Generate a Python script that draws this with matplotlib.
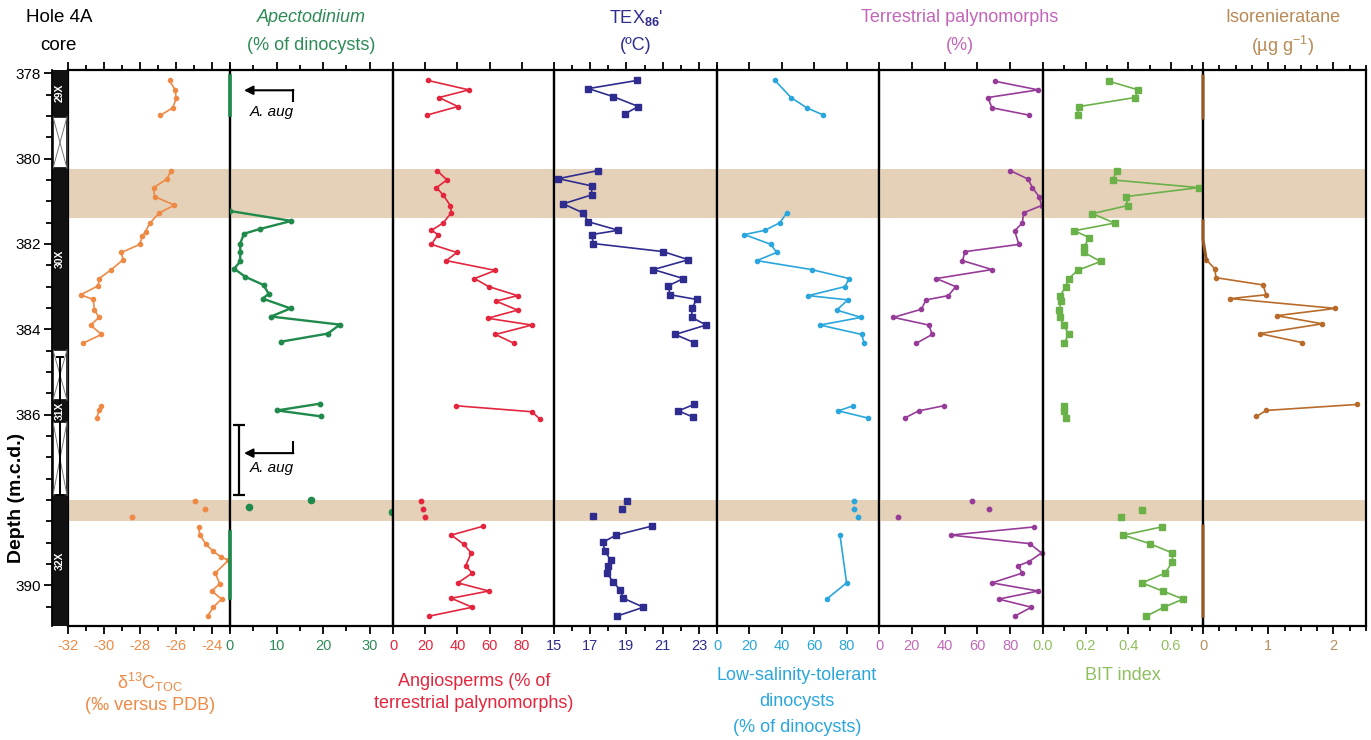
import numpy as np
import matplotlib
matplotlib.use("Agg")
import matplotlib.pyplot as plt
from matplotlib.patches import Rectangle
from matplotlib.ticker import MultipleLocator, FixedLocator, FormatStrFormatter

plt.rcParams["font.family"] = ["Liberation Sans", "DejaVu Sans"]
plt.rcParams["mathtext.fontset"] = "custom"
plt.rcParams["mathtext.rm"] = "Liberation Sans"
plt.rcParams["mathtext.bf"] = "Liberation Sans:bold"
plt.rcParams["mathtext.default"] = "regular"

nan = np.nan
W, H = 1371, 740
TOP_PX, BOT_PX = 69.8, 626.0
DEPTH_TOP, DEPTH_BOT = 377.92, 390.95

# ---- depth intervals ----
event_bands = [(380.25, 381.40), (387.99, 388.50)]
# (top, bottom, label or None)
core_sections = [
    (377.92, 379.02, "29X"),
    (379.02, 380.23, None),
    (380.23, 384.48, "30X"),
    (384.48, 385.66, None),
    (385.66, 386.17, "31X"),
    (386.17, 387.89, None),
    (387.89, 390.95, "32X"),
]
depth_labels = [378, 380, 382, 384, 386, 390]

# ---- d13C TOC ----
d13c_depth = [378.17, 378.39, 378.59, 378.81, 378.99, nan,
              380.28, 380.48, 380.68, 380.89, 381.09, 381.27, 381.52, 381.71, 381.82, 382.01,
              382.20, 382.37, 382.60, 382.81, 382.98, 383.19, 383.30, 383.55, 383.72, 383.90,
              384.12, 384.33, nan,
              385.79, 385.90, 386.08, nan,
              388.63, 388.82, 389.03, 389.20, 389.33, 389.41, 389.71, 389.96, 390.13, 390.32,
              390.51, 390.72]
d13c_value = [-26.36, -26.05, -25.99, -26.18, -26.88, nan,
              -26.27, -26.51, -27.25, -27.19, -26.09, -26.92, -27.47, -27.69, -27.87, -28.02,
              -29.03, -28.94, -29.59, -30.27, -30.32, -31.30, -30.60, -30.53, -30.27, -30.75,
              -30.14, -31.19, nan,
              -30.19, -30.27, -30.41, nan,
              -24.75, -24.67, -24.34, -23.93, -23.51, -23.09, -23.82, -23.57, -24.01, -23.47,
              -23.93, -24.25]
d13c_band_depth = [388.02, 388.21, 388.40]
d13c_band_value = [-24.93, -24.41, -28.43]

# ---- Apectodinium ----
apect_depth = [381.23, 381.46, 381.65, 381.76, 381.99, 382.20, 382.41, 382.58, 382.77, 382.96,
               383.17, 383.28, 383.51, 383.70, 383.89, 384.10, 384.29, nan,
               385.74, 385.90, 386.04]
apect_value = [0.1, 13.2, 6.4, 3.0, 2.2, 2.2, 2.2, 0.9, 3.3, 7.2,
               8.3, 7.0, 13.0, 8.8, 23.6, 21.0, 10.9, nan,
               19.4, 10.1, 19.6]
apect_zero_depth = [378.07, 378.30, 378.55, 378.78, 378.99, nan,
                    388.74, 389.00, 389.30, 389.60, 389.90, 390.30]
apect_zero_value = [0, 0, 0, 0, 0, nan, 0, 0, 0, 0, 0, 0]
apect_band_depth = [387.99, 388.17, 388.27]
apect_band_value = [17.4, 4.0, 34.8]

# ---- Angiosperms ----
angio_depth = [378.17, 378.39, 378.57, 378.78, 378.98, nan,
               380.28, 380.50, 380.68, 380.85, 381.10, 381.27, 381.51, 381.68, 381.78, 382.01,
               382.20, 382.39, 382.62, 382.81, 383.00, 383.21, 383.34, 383.55, 383.74, 383.90,
               384.12, 384.33, nan,
               385.79, 385.93, 386.10, nan,
               388.61, 388.82, 389.03, 389.24, 389.54, 389.71, 389.94, 390.13, 390.30, 390.51,
               390.72]
angio_value = [21.8, 47.1, 28.6, 40.3, 21.2, nan,
               27.4, 33.5, 27.0, 31.1, 35.6, 36.2, 31.1, 23.9, 28.0, 23.9,
               39.7, 33.1, 63.6, 50.6, 59.5, 77.4, 64.0, 77.4, 58.8, 86.2,
               63.6, 75.3, nan,
               38.9, 86.2, 91.2, nan,
               56.2, 36.2, 43.8, 48.6, 45.1, 49.2, 40.3, 59.5, 36.2, 49.2,
               22.4]
angio_band_depth = [388.02, 388.21, 388.40]
angio_band_value = [17.7, 18.7, 19.8]

# ---- TEX86' ----
tex_depth = [378.17, 378.36, 378.55, 378.78, 378.95, nan,
             380.28, 380.47, 380.64, 380.85, 381.06, 381.27, 381.48, 381.68, 381.78, 381.99,
             382.18, 382.37, 382.60, 382.81, 382.98, 383.19, 383.30, 383.51, 383.72, 383.90,
             384.12, 384.31, nan,
             385.76, 385.91, 386.06, nan,
             388.61, 388.82, 388.99, 389.20, 389.41, 389.54, 389.71, 389.92, 390.11, 390.30,
             390.51, 390.72]
tex_value = [19.57, 16.90, 18.28, 19.66, 18.92, nan,
             17.45, 15.24, 17.08, 17.08, 15.51, 16.59, 16.90, 18.55, 17.08, 17.17,
             21.04, 22.42, 20.49, 22.14, 21.31, 21.41, 22.88, 22.61, 22.61, 23.40,
             21.69, 22.73, nan,
             22.73, 21.87, 22.70, nan,
             20.40, 18.43, 17.69, 17.82, 18.13, 17.99, 17.91, 18.28, 18.65, 18.83,
             19.94, 18.46]
tex_band_depth = [388.02, 388.21, 388.38]
tex_band_value = [19.05, 18.74, 17.17]

# ---- low-salinity-tolerant dinocysts ----
lowsal_depth = [378.17, 378.57, 378.81, 378.98, nan,
                381.27, 381.50, 381.68, 381.78, 382.01, 382.20, 382.39, 382.60, 382.81, 383.00,
                383.21, 383.31, 383.55, 383.72, 383.90, 384.12, 384.33, nan,
                385.79, 385.91, 386.08, nan,
                388.82, 389.94, 390.32]
lowsal_value = [35.8, 45.7, 55.4, 65.6, nan,
                43.0, 38.9, 29.6, 16.9, 33.3, 36.8, 24.5, 58.4, 81.5, 79.0,
                56.4, 80.7, 73.9, 88.9, 63.6, 89.3, 90.9, nan,
                84.2, 74.9, 93.4, nan,
                75.9, 80.0, 67.7]
lowsal_band_depth = [388.02, 388.21, 388.40]
lowsal_band_value = [84.8, 84.8, 86.8]

# ---- terrestrial palynomorphs ----
terr_depth = [378.19, 378.39, 378.57, 378.81, 378.98, nan,
              380.28, 380.48, 380.68, 380.89, 381.10, 381.27, 381.51, 381.69, 382.01, 382.18,
              382.39, 382.60, 382.81, 383.00, 383.21, 383.31, 383.53, 383.72, 383.90, 384.12,
              384.33, nan,
              385.79, 385.91, 386.08, nan,
              388.63, 388.82, 389.02, 389.24, 389.44, 389.54, 389.71, 389.94, 390.13, 390.32,
              390.51, 390.72]
terr_value = [71.0, 97.0, 66.3, 68.9, 91.3, nan,
              80.0, 90.9, 93.5, 97.6, 99.1, 88.2, 87.4, 82.7, 85.3, 52.5,
              50.9, 68.9, 34.9, 46.8, 42.3, 28.7, 25.8, 8.8, 30.4, 32.4,
              22.6, nan,
              39.6, 24.2, 15.6, nan,
              94.4, 43.7, 91.9, 99.1, 91.5, 84.7, 87.4, 68.9, 97.0, 73.0,
              92.9, 82.7]
terr_band_depth = [388.02, 388.21, 388.40]
terr_band_value = [56.6, 67.3, 11.5]

# ---- BIT index ----
bit_depth = [378.19, 378.39, 378.57, 378.78, 378.99, nan,
             380.28, 380.50, 380.68, 380.89, 381.10, 381.29, 381.51, 381.69, 381.85, 382.07,
             382.20, 382.41, 382.62, 382.81, 383.00, 383.21, 383.34, 383.55, 383.72, 383.90,
             384.12, 384.33, nan,
             385.79, 385.91, 386.08, nan,
             388.63, 388.82, 389.02, 389.24, 389.44, 389.71, 389.94, 390.13, 390.32, 390.51,
             390.72]
bit_value = [0.311, 0.446, 0.431, 0.170, 0.162, nan,
             0.346, 0.326, 0.730, 0.388, 0.397, 0.231, 0.336, 0.147, 0.216, 0.193,
             0.193, 0.270, 0.162, 0.121, 0.106, 0.081, 0.086, 0.075, 0.078, 0.097,
             0.121, 0.097, nan,
             0.097, 0.097, 0.106, nan,
             0.556, 0.377, 0.500, 0.607, 0.607, 0.573, 0.464, 0.561, 0.657, 0.566,
             0.484]
bit_band_depth = [388.23, 388.40]
bit_band_value = [0.464, 0.366]

# ---- isorenieratane ----
iso_depth = [382.37, 382.58, 382.79, 382.96, 383.19, 383.28, 383.51, 383.68, 383.87, 384.10,
             384.31, nan,
             385.76, 385.90, 386.04]
iso_value = [0.05, 0.18, 0.20, 0.92, 0.97, 0.42, 2.03, 1.13, 1.83, 0.87,
             1.52, nan,
             2.36, 0.97, 0.82]
iso_zero_depth = [378.07, 378.55, 379.05, nan, 381.46, 381.90, 382.37, nan,
                  388.61, 389.40, 390.20, 390.72]
iso_zero_value = [0, 0, 0, nan, 0, 0, 0.05, nan, 0, 0, 0, 0]

BAND_COLOR = "#E5D1B8"


def fig_rect(x0, x1, y0=TOP_PX, y1=BOT_PX):
    return [x0 / W, 1 - y1 / H, (x1 - x0) / W, (y1 - y0) / H]


def ftext(x, y, s, **kw):
    kw.setdefault("ha", "center")
    kw.setdefault("va", "center")
    fig.text(x / W, 1 - y / H, s, **kw)


fig = plt.figure(figsize=(W / 100, H / 100), dpi=100)

panels = [
    dict(x=(68, 230), lim=(-32, -23), major=[-32, -30, -28, -26, -24], minor=[-31, -29, -27, -25, -23],
         fmt="%d", color="#EE8A45"),
    dict(x=(230, 393), lim=(0, 35), major=[0, 10, 20, 30], minor=[5, 15, 25],
         fmt="%d", color="#2E8B57"),
    dict(x=(393, 554), lim=(0, 100), major=[0, 20, 40, 60, 80], minor=[],
         fmt="%d", color="#E3263D"),
    dict(x=(554, 717), lim=(15, 24), major=[15, 17, 19, 21, 23], minor=[16, 18, 20, 22, 24],
         fmt="%d", color="#2E2D8F"),
    dict(x=(717, 879), lim=(0, 100), major=[0, 20, 40, 60, 80], minor=[],
         fmt="%d", color="#2AA6DD"),
    dict(x=(879, 1043), lim=(0, 100), major=[0, 20, 40, 60, 80], minor=[],
         fmt="%d", color="#C06AB8"),
    dict(x=(1043, 1203), lim=(0, 0.75), major=[0.0, 0.2, 0.4, 0.6], minor=[0.1, 0.3, 0.5, 0.7],
         fmt="%.1f", color="#8FBF5E"),
    dict(x=(1203, 1366), lim=(0, 2.5), major=[0, 1, 2],
         minor=[0.25, 0.5, 0.75, 1.25, 1.5, 1.75, 2.25, 2.5], fmt="%d", color="#B89060"),
]

axes = []
for p in panels:
    ax = fig.add_axes(fig_rect(*p["x"]))
    ax.set_facecolor("none")
    ax.set_xlim(*p["lim"])
    ax.set_ylim(DEPTH_BOT, DEPTH_TOP)
    ax.xaxis.set_major_locator(FixedLocator(p["major"]))
    ax.xaxis.set_minor_locator(FixedLocator(p["minor"]))
    ax.xaxis.set_major_formatter(FormatStrFormatter(p["fmt"]))
    ax.tick_params(axis="x", which="both", direction="out", top=True, bottom=True,
                   labeltop=False, width=1.3, labelsize=10.5, labelcolor=p["color"], pad=3)
    ax.tick_params(axis="x", which="major", length=6)
    ax.tick_params(axis="x", which="minor", length=3.5)
    ax.tick_params(axis="y", which="both", left=False, right=False, labelleft=False)
    for s in ax.spines.values():
        s.set_linewidth(1.6)
    for top, bot in event_bands:
        ax.axhspan(top, bot, color=BAND_COLOR, lw=0, zorder=0)
    axes.append(ax)

ax_d13c, ax_ap, ax_an, ax_tex, ax_ls, ax_tr, ax_bit, ax_iso = axes

line_kw = dict(lw=1.2, marker="o", ms=3, zorder=3, clip_on=False)
band_kw = dict(ls="none", marker="o", ms=3.2, zorder=3, clip_on=False)

ax_d13c.plot(d13c_value, d13c_depth, color="#EE8A45", **line_kw)
ax_d13c.plot(d13c_band_value, d13c_band_depth, color="#EE8A45", **band_kw)

ax_ap.plot(apect_value, apect_depth, color="#1F8A4C", lw=1.7, marker="o", ms=3.2, zorder=3)
ax_ap.plot(apect_zero_value, apect_zero_depth, color="#1F8A4C", lw=2.6, zorder=3, clip_on=False)
ax_ap.plot(apect_band_value, apect_band_depth, color="#1F8A4C", ls="none", marker="o", ms=4.5,
           zorder=3, clip_on=False)

ax_an.plot(angio_value, angio_depth, color="#E3263D", **line_kw)
ax_an.plot(angio_band_value, angio_band_depth, color="#E3263D", **band_kw)

ax_tex.plot(tex_value, tex_depth, color="#2E2D8F", lw=1.2, marker="s", ms=4, zorder=3)
ax_tex.plot(tex_band_value, tex_band_depth, color="#2E2D8F", ls="none", marker="s", ms=4, zorder=3)

ax_ls.plot(lowsal_value, lowsal_depth, color="#2AA6DD", **line_kw)
ax_ls.plot(lowsal_band_value, lowsal_band_depth, color="#2AA6DD", **band_kw)

ax_tr.plot(terr_value, terr_depth, color="#963C98", **line_kw)
ax_tr.plot(terr_band_value, terr_band_depth, color="#963C98", **band_kw)

ax_bit.plot(bit_value, bit_depth, color="#6BB14A", lw=1.2, marker="s", ms=4, zorder=3, clip_on=False)
ax_bit.plot(bit_band_value, bit_band_depth, color="#6BB14A", ls="none", marker="s", ms=4, zorder=3)

ax_iso.plot(iso_value, iso_depth, color="#B86B2A", **line_kw)
ax_iso.plot(iso_zero_value, iso_zero_depth, color="#9A5A24", lw=2.2, zorder=3, clip_on=False)

# A. aug markers in the Apectodinium column
for y_line, y_tick, y_txt in [(378.40, 378.66, 378.90), (386.90, 386.65, 387.26)]:
    ax_ap.annotate("", xy=(3.0, y_line), xytext=(13.6, y_line),
                   arrowprops=dict(arrowstyle="-|>", color="black", lw=1.5,
                                   mutation_scale=13, shrinkA=0, shrinkB=0))
    ax_ap.plot([13.6, 13.6], [y_line, y_tick], color="black", lw=1.5)
    ax_ap.text(9.0, y_txt, "A. aug", style="italic", fontsize=11, ha="center", va="center")
ax_ap.errorbar([2.0], [387.05], yerr=[[0.82], [0.82]], color="black", lw=1.6, capsize=4,
               capthick=1.6)

# core column
ax_core = fig.add_axes(fig_rect(52, 68))
ax_core.set_xlim(0, 1)
ax_core.set_ylim(DEPTH_BOT, DEPTH_TOP)
for side in ["top", "right", "bottom"]:
    ax_core.spines[side].set_visible(False)
ax_core.spines["left"].set_linewidth(1.3)
ax_core.set_xticks([])
ax_core.yaxis.set_major_locator(FixedLocator(depth_labels))
ax_core.yaxis.set_minor_locator(MultipleLocator(0.5))
ax_core.tick_params(axis="y", which="both", direction="out", width=1.3, labelsize=11, pad=2)
ax_core.tick_params(axis="y", which="major", length=6)
ax_core.tick_params(axis="y", which="minor", length=4.5)
for top, bot, label in core_sections:
    if label:
        ax_core.add_patch(Rectangle((0, top), 1, bot - top, facecolor="#111111",
                                    edgecolor="#111111", lw=1))
        ax_core.text(0.5, (top + bot) / 2, label, color="white", fontsize=7.5,
                     fontweight="bold", rotation=90, ha="center", va="center")
    else:
        ax_core.add_patch(Rectangle((0.06, top), 0.88, bot - top, facecolor="white",
                                    edgecolor="#111111", lw=1.2))
        ax_core.plot([0.06, 0.94], [top, bot], color="#777777", lw=0.7)
        ax_core.plot([0.94, 0.06], [top, bot], color="#777777", lw=0.7)
ax_core.errorbar([0.5], [386.27], yerr=[[1.62], [1.62]], color="black", lw=1.4, capsize=3,
                 capthick=1.4)

ftext(17, 498, "Depth (m.c.d.)", rotation=90, fontsize=14, fontweight="bold")

# column headers
ftext(59, 17, "Hole 4A", fontsize=13.5)
ftext(58, 45, "core", fontsize=13.5)
ftext(311, 18, "Apectodinium", fontsize=13, color="#2E8B57", style="italic")
ftext(311, 46, "(% of dinocysts)", fontsize=13, color="#2E8B57")
ftext(636, 18, r"TEX$_{\mathbf{86}}$'", fontsize=13, color="#2E2D8F")
ftext(636, 46, "(ºC)", fontsize=13, color="#2E2D8F")
ftext(960, 18, "Terrestrial palynomorphs", fontsize=13, color="#C265B9")
ftext(960, 46, "(%)", fontsize=13, color="#C265B9")
ftext(1283, 18, "Isorenieratane", fontsize=13, color="#B88A55")
ftext(1283, 46, r"(µg g$^{-1}$)", fontsize=13, color="#B88A55")

# axis titles below
ftext(150, 682, r"δ$^{13}$C$_{TOC}$", fontsize=13, color="#EE8A45")
ftext(150, 705, "(‰ versus PDB)", fontsize=13, color="#EE8A45")
ftext(474, 681, "Angiosperms (% of", fontsize=13, color="#E3263D")
ftext(474, 704, "terrestrial palynomorphs)", fontsize=13, color="#E3263D")
ftext(797, 675, "Low-salinity-tolerant", fontsize=13, color="#2AA6DD")
ftext(797, 702, "dinocysts", fontsize=13, color="#2AA6DD")
ftext(797, 728, "(% of dinocysts)", fontsize=13, color="#2AA6DD")
ftext(1123, 675, "BIT index", fontsize=13, color="#8FBF5E")

fig.savefig("out.png", dpi=100)
